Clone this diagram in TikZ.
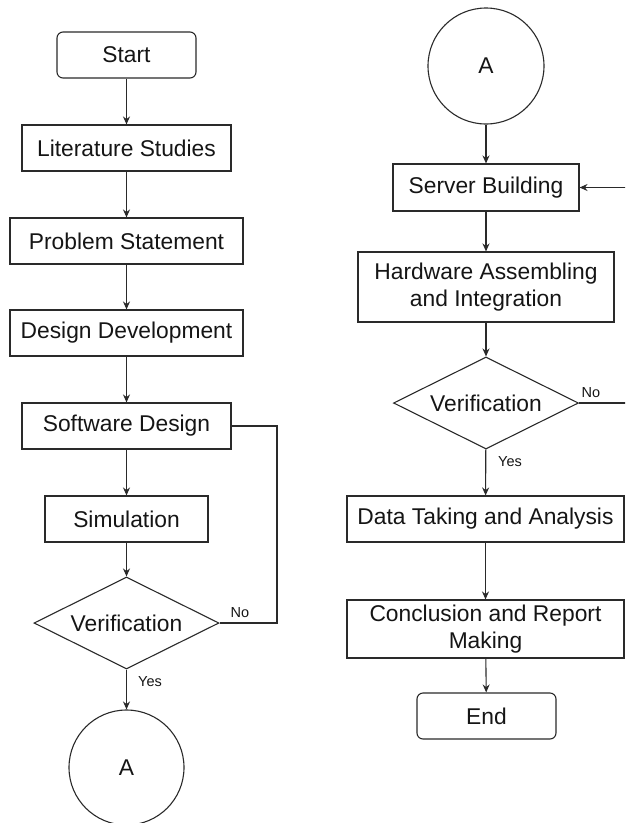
\documentclass[tikz,border=0pt]{standalone}
\usepackage{fontspec}
\setmainfont{Liberation Sans}
\usetikzlibrary{shapes.geometric,arrows.meta}
\definecolor{ln}{HTML}{2A2A2A}
\definecolor{tx}{HTML}{151515}
\begin{document}
\begin{tikzpicture}[x=1pt,y=-1pt,
  every node/.style={text=tx,font=\fontsize{22.8}{27}\selectfont},
  box/.style={draw=ln,line width=1.1pt,rectangle,inner sep=0pt,minimum height=46pt,align=center},
  term/.style={box,rounded corners=6pt,minimum width=139pt},
  dec/.style={draw=ln,line width=1.1pt,diamond,aspect=2,inner sep=0pt,minimum width=185pt,minimum height=92pt},
  conn/.style={draw=ln,line width=1.1pt,circle,inner sep=0pt,minimum size=115pt},
  lbl/.style={font=\fontsize{14.5}{16}\selectfont,inner sep=0pt},
  arr/.style={draw=ln,line width=1.1pt,-{Stealth[length=8pt,width=7pt]}},
  ln/.style={draw=ln,line width=1.1pt}]
\clip (0,0) rectangle (625,823);
% left column
\node[term] (start) at (126.5,55) {Start};
\node[box,minimum width=209pt] (lit) at (126.5,148) {Literature Studies};
\node[box,minimum width=233pt] (prob) at (126.5,241) {Problem Statement};
\node[box,minimum width=233pt] (dev) at (126.5,333) {Design Development};
\node[box,minimum width=209pt] (soft) at (126.5,426) {Software Design};
\node[box,minimum width=163pt] (sim) at (126.5,519) {Simulation};
\node[dec] (ver1) at (126.5,623) {Verification};
\node[conn] (a1) at (126.5,767.5) {A};
\node[lbl] (no1) at (240,613) {No};
\node[lbl] (yes1) at (150,682) {Yes};
\coordinate (l1) at (277,426);
\draw[arr] (start) -- (lit);
\draw[arr] (lit) -- (prob);
\draw[arr] (prob) -- (dev);
\draw[arr] (dev) -- (soft);
\draw[arr] (soft) -- (sim);
\draw[arr] (sim) -- (ver1);
\draw[arr] (ver1) -- (a1);
\draw[ln] (soft.east) -- (l1) |- (ver1.east);
% right column
\node[conn,minimum size=116pt] (a2) at (486,66) {A};
\node[box,minimum width=186pt,minimum height=47pt] (srv) at (486,187.5) {Server Building};
\node[box,minimum width=256pt,minimum height=70pt] (hw) at (486,287) {Hardware Assembling\\and Integration};
\node[dec] (ver2) at (486,403) {Verification};
\node[box,minimum width=277pt] (data) at (485.5,519) {Data Taking and Analysis};
\node[box,minimum width=277pt,minimum height=58pt] (concl) at (485.5,629) {Conclusion and Report\\Making};
\node[term] (end) at (486.5,716) {End};
\node[lbl] (no2) at (591,393) {No};
\node[lbl] (yes2) at (510,462) {Yes};
\coordinate (r1) at (632,300);
\draw[arr] (a2) -- (srv);
\draw[arr] (srv) -- (hw);
\draw[arr] (hw) -- (ver2);
\draw[arr] (ver2) -- (data);
\draw[arr] (data) -- (concl);
\draw[arr] (concl) -- (end);
\draw[arr] (ver2.east) -| (r1) |- (srv.east);
\end{tikzpicture}
\end{document}
